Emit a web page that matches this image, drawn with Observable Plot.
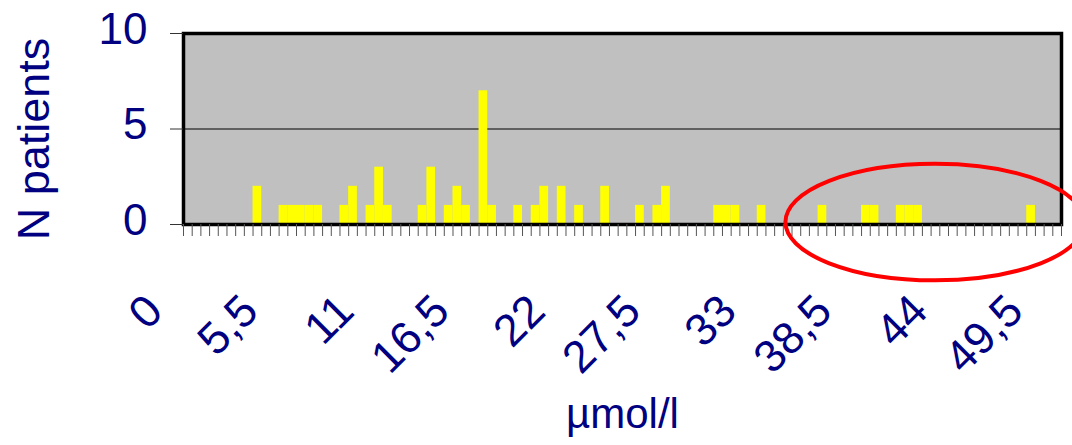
<!DOCTYPE html>
<html><head><meta charset="utf-8">
<script src="https://cdn.jsdelivr.net/npm/d3@7"></script>
<script src="https://cdn.jsdelivr.net/npm/@observablehq/plot@0.6"></script>
<style>
body{margin:0;background:#fff;}
#chart svg{display:block;}
</style></head><body><div id="chart"></div>
<script>
// Histogram: number of patients per 0.5 µmol/l class
const concentrations = [4, 5.5, 6, 6.5, 7, 7.5, 9, 9.5, 10.5, 11, 11.5, 13.5, 14, 15, 15.5, 16, 17, 17.5, 19, 20, 20.5, 21.5, 22.5, 24, 26, 27, 27.5, 30.5, 31, 31.5, 33, 36.5, 39, 39.5, 41, 41.5, 42, 48.5];
const patients = [2, 1, 1, 1, 1, 1, 1, 2, 1, 3, 1, 1, 3, 1, 2, 1, 7, 1, 1, 1, 2, 2, 1, 2, 1, 1, 2, 1, 1, 1, 1, 1, 1, 1, 1, 1, 1, 1];
const classStep = 0.5;
const classMin = 0;
const classMax = 50;
const xLabels = [0, 5.5, 11, 16.5, 22, 27.5, 33, 38.5, 44, 49.5];
const yTicks = [0, 5, 10];
const yGrid = [5];
const yTitle = "N patients";
const xTitle = "µmol/l";
// highlighted region (annotation), in data units
const highlight = {cx: 43, cy: 0.1, rx: 8.6, ry: 3.05};

const data = concentrations.map((c, i) => ({c, n: patients[i]}));
const nClasses = Math.round((classMax - classMin) / classStep) + 1;
const boundaries = d3.range(nClasses + 1).map(i => classMin - classStep / 2 + i * classStep);
const fmt = d => String(d).replace(".", ",");

const navy = "#000080";
const font = "'Liberation Sans', Arial, sans-serif";

const chart = Plot.plot({
  width: 1072,
  height: 445,
  marginLeft: 183,
  marginRight: 11,
  marginTop: 33,
  marginBottom: 221,
  style: {fontFamily: font, background: "#fff", color: navy},
  x: {domain: [classMin - classStep / 2, classMax + classStep / 2]},
  y: {domain: [0, 10]},
  marks: [
    Plot.frame({fill: "#c0c0c0"}),
    Plot.ruleY(yGrid, {stroke: "#000", strokeWidth: 1}),
    Plot.rectY(data, {x1: d => d.c - classStep / 2, x2: d => d.c + classStep / 2, y: "n", fill: "#ffff00"}),
    Plot.frame({stroke: "#000", strokeWidth: 3.5}),
    Plot.axisX({ticks: boundaries, tickSize: 12, fill: "none", stroke: "#555", label: null}),
    Plot.text(xLabels, {x: d => d, text: fmt, frameAnchor: "bottom", rotate: -45, textAnchor: "end", lineAnchor: "bottom", dx: -23, dy: 89, fontSize: 45, fill: navy}),
    Plot.axisY({ticks: yTicks, tickSize: 13, fill: "none", stroke: "#333", label: null}),
    Plot.axisY({ticks: yTicks, tickSize: 13, tickPadding: 23, stroke: "none", fill: navy, fontSize: 44, dy: -4, label: null}),
    Plot.text([yTitle], {frameAnchor: "left", rotate: -90, lineAnchor: "bottom", textAnchor: "middle", dx: -135, dy: 10, fontSize: 45, fill: navy}),
    Plot.text([xTitle], {frameAnchor: "bottom", lineAnchor: "bottom", textAnchor: "middle", dy: 203, fontSize: 42, fill: navy})
  ]
});

// red annotation ellipse, positioned through the chart's scales
const sx = chart.scale("x"), sy = chart.scale("y");
const ecx = sx.apply(highlight.cx), ecy = sy.apply(highlight.cy);
const erx = Math.abs(sx.apply(highlight.cx + highlight.rx) - ecx);
const ery = Math.abs(sy.apply(highlight.cy + highlight.ry) - ecy);
d3.select(chart).append("ellipse")
  .attr("cx", ecx).attr("cy", ecy).attr("rx", erx).attr("ry", ery)
  .attr("fill", "none").attr("stroke", "#ff0000").attr("stroke-width", 4);

document.getElementById("chart").appendChild(chart);
</script>
</body></html>
